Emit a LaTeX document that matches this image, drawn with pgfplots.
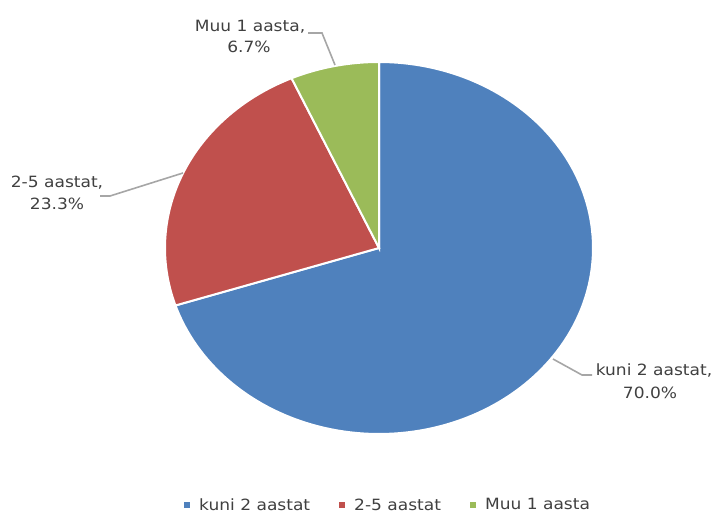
\documentclass[border=0pt]{standalone}
\usepackage{pgfplots}
\pgfplotsset{compat=1.18}
\usepackage{fontspec}
\setmainfont{DejaVu Sans}[FakeStretch=1.1]
\definecolor{cblue}{HTML}{4F81BD}
\definecolor{cred}{HTML}{C0504D}
\definecolor{cgreen}{HTML}{9BBB59}
\definecolor{ctext}{HTML}{404040}
\definecolor{cline}{HTML}{A6A6A6}
% data (percent)
\def\vA{70.0}\def\vB{23.3}\def\vC{6.7}
\pgfmathsetmacro\aA{90-3.6*\vA}
\pgfmathsetmacro\aB{\aA-3.6*\vB}
\pgfmathsetmacro\aC{\aB-3.6*\vC}
\begin{document}
\begin{tikzpicture}
\useasboundingbox (0,0) rectangle (714bp,514bp);
\begin{axis}[
  at={(0,0)}, anchor=south west,
  width=714bp, height=514bp, scale only axis,
  xmin=0, xmax=714, ymin=0, ymax=514,
  hide axis, clip=false,
  legend columns=3,
  legend image code/.code={\fill[#1] (0bp,-4bp) rectangle (8bp,4bp);},
  legend style={draw=none, fill=none, at={(axis cs:182,9)}, anchor=west,
    inner sep=0pt, font=\fontsize{15.5bp}{18bp}\selectfont, text=ctext,
    nodes={inner sep=0pt},
    /tikz/every odd column/.append style={column sep=7bp},
    /tikz/every even column/.append style={column sep=27bp}},
]
\addplot[fill=cblue, draw=white, line width=2bp, domain=\aA:90, samples=150, variable=\t]
  ({379+214*cos(\t)},{266+186*sin(\t)}) -- (379,266) -- cycle;
\addlegendentry{kuni 2 aastat}
\addplot[fill=cred, draw=white, line width=2bp, domain=\aB:\aA, samples=80, variable=\t]
  ({379+214*cos(\t)},{266+186*sin(\t)}) -- (379,266) -- cycle;
\addlegendentry{2-5 aastat}
\addplot[fill=cgreen, draw=white, line width=2bp, domain=\aC:\aB, samples=40, variable=\t]
  ({379+214*cos(\t)},{266+186*sin(\t)}) -- (379,266) -- cycle;
\addlegendentry{Muu 1 aasta}
% leader lines
\addplot[cline, line width=1.6bp, forget plot] coordinates {(308,481) (322,481) (335,449)};
\addplot[cline, line width=1.6bp, forget plot] coordinates {(100,318) (110,318) (183,341)};
\addplot[cline, line width=1.6bp, forget plot] coordinates {(553,155) (582,139) (592,139)};
% labels
\begin{scope}[every node/.style={text=ctext, font=\fontsize{15.5bp}{18bp}\selectfont, inner sep=0pt, anchor=base}]
\node at (axis cs:250,482) {Muu 1 aasta,};
\node at (axis cs:249,461) {6.7\%};
\node at (axis cs:57,326) {2-5 aastat,};
\node at (axis cs:57,304) {23.3\%};
\node at (axis cs:654,138) {kuni 2 aastat,};
\node at (axis cs:650,115) {70.0\%};
\end{scope}
\end{axis}
\end{tikzpicture}
\end{document}
